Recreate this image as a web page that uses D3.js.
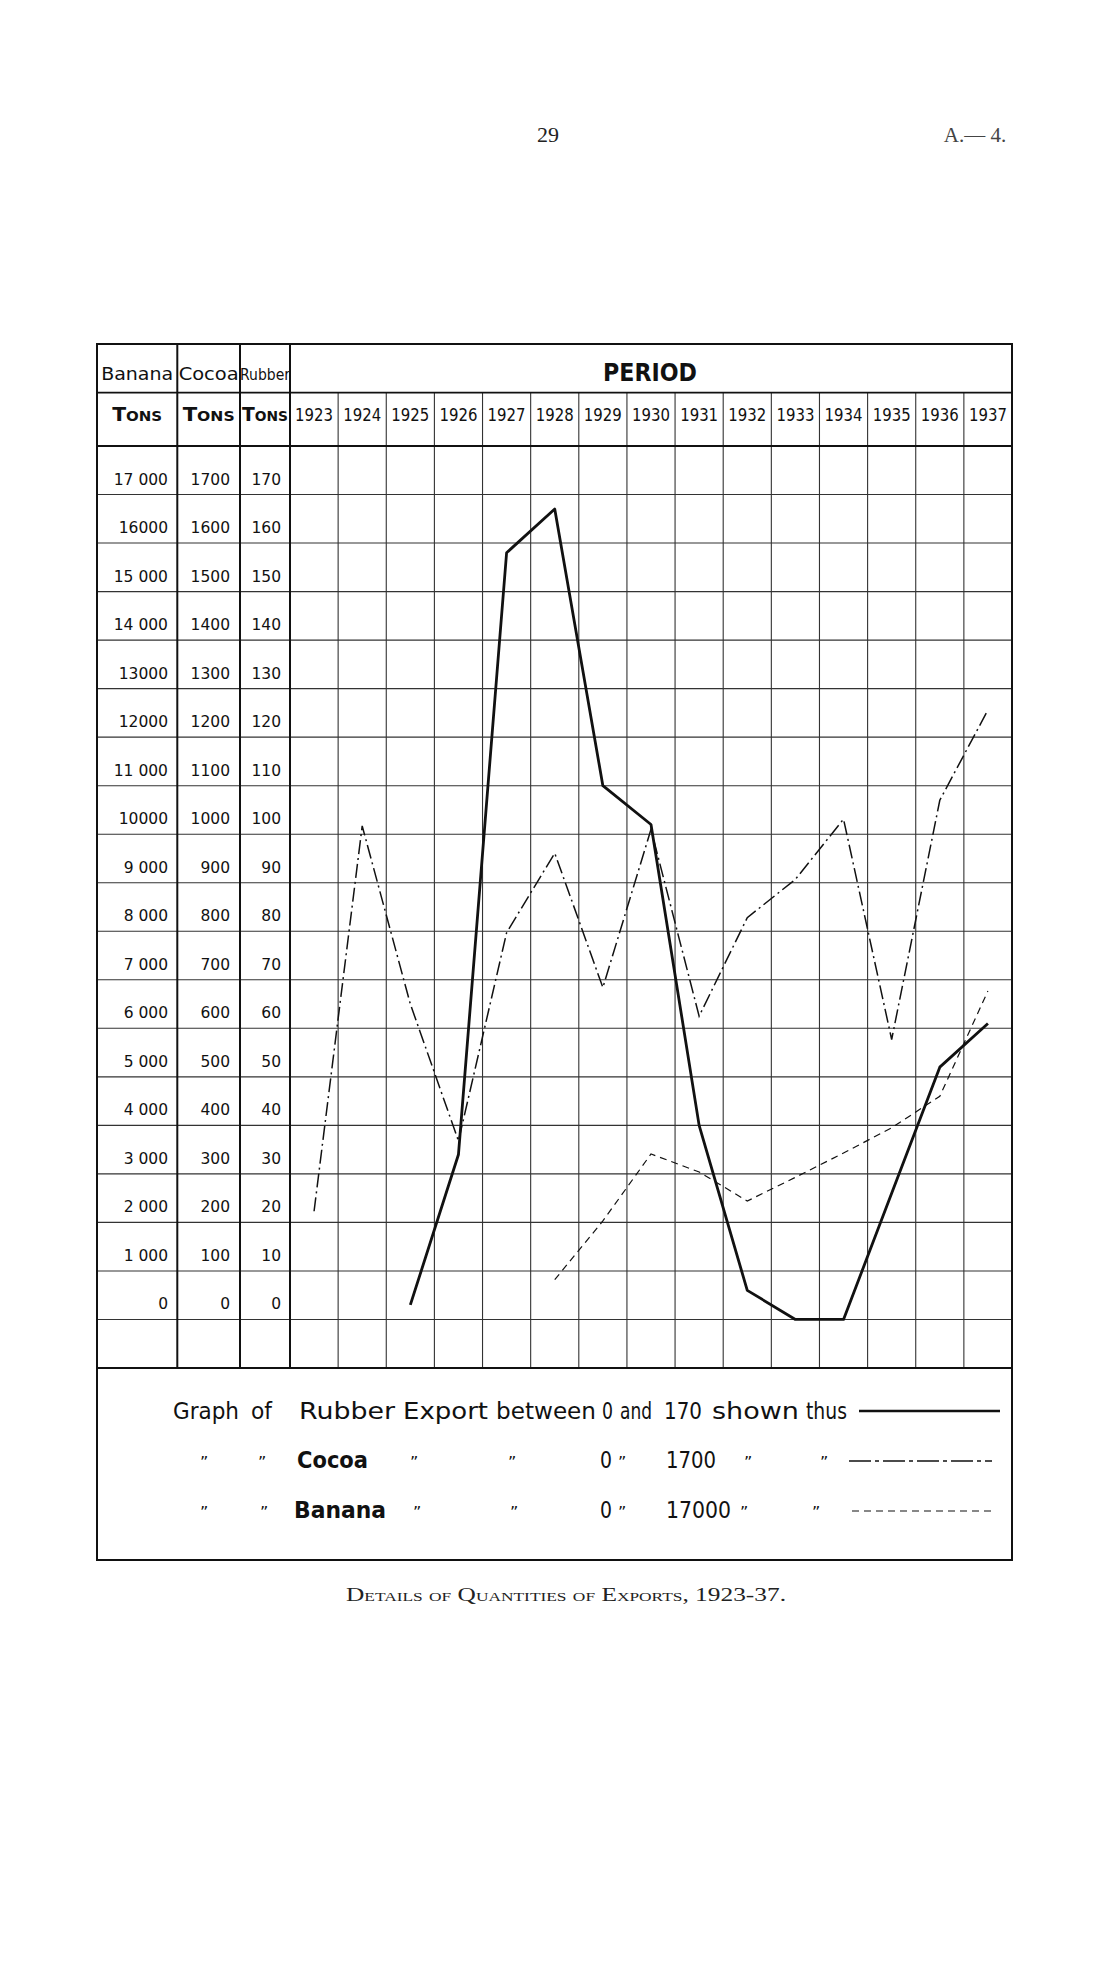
<!DOCTYPE html>
<html><head><meta charset="utf-8">
<script src="https://cdn.jsdelivr.net/npm/d3@7"></script>
<style>body{margin:0;background:#fff}</style>
</head><body>
<svg id="c" width="1114" height="1967" xmlns="http://www.w3.org/2000/svg"></svg>
<script>
// ---------------- data ----------------
const years = [1923,1924,1925,1926,1927,1928,1929,1930,1931,1932,1933,1934,1935,1936,1937];
const rubberTons = [null,null,3,34,158,167,110,102,40,6,0,0,26,52,61];
const cocoaTons  = [223,1017,650,368,797,961,684,1010,625,828,907,1031,577,1070,1256];
const bananaTons = [null,null,null,null,null,820,2030,3410,3040,2440,2930,3430,3950,4600,6770];
const bananaTicks = ["17 000","16000","15 000","14 000","13000","12000","11 000","10000","9 000","8 000","7 000","6 000","5 000","4 000","3 000","2 000","1 000","0"];
const cocoaTicks  = ["1700","1600","1500","1400","1300","1200","1100","1000","900","800","700","600","500","400","300","200","100","0"];
const rubberTicks = ["170","160","150","140","130","120","110","100","90","80","70","60","50","40","30","20","10","0"];
const rubberTickValues = [170,160,150,140,130,120,110,100,90,80,70,60,50,40,30,20,10,0];
const columnHeads = ["Banana","Cocoa","Rubber"];
const unitLabel = ["T","ONS"];
const periodLabel = "PERIOD";
const legendRubber = ["Graph","of","Rubber","Export","between","0","and","170","shown","thus"];
const legendCocoa  = ["\u201D","\u201D","Cocoa","\u201D","\u201D","0","\u201D","1700","\u201D","\u201D"];
const legendBanana = ["\u201D","\u201D","Banana","\u201D","\u201D","0","\u201D","17000","\u201D","\u201D"];
const caption = "Details of Quantities of Exports, 1923-37.";
const pageNumber = "29";
const pageRef = "A.\u2014 4.";

// ---------------- layout ----------------
const L = 97, R = 1012, T = 344, H1 = 392.7, H2 = 446, B = 1368, LB = 1560;
const colX = [97, 177.3, 240, 290];
const svg = d3.select("#c");
const ink = "#111";

const x = d3.scaleBand().domain(years).range([290, R]);
const bw = x.bandwidth();
const yR = d3.scaleLinear().domain([-10, 180]).range([B, H2]);
const yC = d3.scaleLinear().domain([-100, 1800]).range([B, H2]);
const yB = d3.scaleLinear().domain([-1000, 18000]).range([B, H2]);

// grid: horizontal rows
const g = svg.append("g");
g.selectAll("line.h").data(d3.range(0, 180, 10)).join("line")
  .attr("x1", L).attr("x2", R).attr("y1", d => yR(d)).attr("y2", d => yR(d))
  .attr("stroke", "#333").attr("stroke-width", 1.1);
// year verticals
g.selectAll("line.v").data(years.slice(1)).join("line")
  .attr("x1", d => x(d)).attr("x2", d => x(d)).attr("y1", H1).attr("y2", B)
  .attr("stroke", "#333").attr("stroke-width", 1.1);
// header lines
[H1, H2, B].forEach(yy => g.append("line").attr("x1", L).attr("x2", R).attr("y1", yy).attr("y2", yy)
  .attr("stroke", ink).attr("stroke-width", 1.8));
// label column dividers
colX.slice(1).forEach(xx => g.append("line").attr("x1", xx).attr("x2", xx).attr("y1", T).attr("y2", B)
  .attr("stroke", ink).attr("stroke-width", 2));
// outer box
g.append("rect").attr("x", L).attr("y", T).attr("width", R - L).attr("height", LB - T)
  .attr("fill", "none").attr("stroke", ink).attr("stroke-width", 2);

// header texts
const hf = "'DejaVu Sans', sans-serif";
const headCenters = [(colX[0]+colX[1])/2, (colX[1]+colX[2])/2, (colX[2]+colX[3])/2];
const headW = [72, 60, 50];
columnHeads.forEach((t, i) => {
  svg.append("text").attr("x", headCenters[i]).attr("y", 380).attr("text-anchor", "middle")
    .attr("font-family", hf).attr("font-size", i === 2 ? 15 : 17).attr("fill", ink)
    .attr("textLength", headW[i]).attr("lengthAdjust", "spacingAndGlyphs").text(t);
});
svg.append("text").attr("x", 650).attr("y", 381).attr("text-anchor", "middle")
  .attr("font-family", hf).attr("font-size", 25).attr("font-weight", "bold").attr("fill", ink)
  .attr("textLength", 94).attr("lengthAdjust", "spacingAndGlyphs").text(periodLabel);
const tonsW = [50, 52, 46];
headCenters.forEach((cx, i) => {
  const t = svg.append("text").attr("x", cx).attr("y", 421).attr("text-anchor", "middle")
    .attr("font-family", hf).attr("font-weight", "bold").attr("fill", ink)
    .attr("textLength", tonsW[i]).attr("lengthAdjust", "spacingAndGlyphs");
  t.append("tspan").attr("font-size", 19).text(unitLabel[0]);
  t.append("tspan").attr("font-size", 14).text(unitLabel[1]);
});
svg.selectAll("text.yr").data(years).join("text")
  .attr("x", d => x(d) + bw / 2).attr("y", 421).attr("text-anchor", "middle")
  .attr("font-family", hf).attr("font-size", 17).attr("fill", ink)
  .attr("textLength", 38).attr("lengthAdjust", "spacingAndGlyphs").text(d => d);

// tick labels
const tickCols = [[bananaTicks, 168], [cocoaTicks, 230], [rubberTicks, 281]];
tickCols.forEach(([arr, xe]) => {
  svg.selectAll(null).data(arr).join("text")
    .attr("x", xe).attr("y", (d, i) => yR(rubberTickValues[i]) - 10)
    .attr("text-anchor", "end").attr("font-family", hf).attr("font-size", 15.5).attr("fill", ink)
    .text(d => d);
});

// series lines
const cx = i => x(years[i]) + bw / 2;
const lineR = d3.line().defined(d => d != null).x((d, i) => cx(i)).y(d => yR(d));
const lineC = d3.line().defined(d => d != null).x((d, i) => cx(i)).y(d => yC(d));
const lineB = d3.line().defined(d => d != null).x((d, i) => cx(i)).y(d => yB(d));
svg.append("path").attr("d", lineB(bananaTons)).attr("fill", "none").attr("stroke", ink)
  .attr("stroke-width", 1.2).attr("stroke-dasharray", "7,5");
svg.append("path").attr("d", lineC(cocoaTons)).attr("fill", "none").attr("stroke", ink)
  .attr("stroke-width", 1.5).attr("stroke-dasharray", "14,4,2,4");
svg.append("path").attr("d", lineR(rubberTons)).attr("fill", "none").attr("stroke", ink)
  .attr("stroke-width", 2.8).attr("stroke-linejoin", "round");

// legend
const lf = "'DejaVu Sans', sans-serif";
const legendX = [
  [173, 251, 299, 403, 496, 602, 620, 664, 712, 806],
  [200, 258, 297, 410, 508, 600, 618, 666, 744, 820],
  [200, 260, 294, 413, 510, 600, 618, 666, 740, 812]
];
const legendW = [
  [66, 21, 96, 85, 100, 11, 32, 38, 87, 41],
  [0, 0, 71, 0, 0, 12, 0, 50, 0, 0],
  [0, 0, 92, 0, 0, 12, 0, 65, 0, 0]
];
const legendY = [1419, 1468, 1518];
[legendRubber, legendCocoa, legendBanana].forEach((row, r) => {
  row.forEach((t, i) => {
    const isQuote = t === "\u201D";
    const el = svg.append("text").attr("x", legendX[r][i]).attr("y", legendY[r])
      .attr("font-family", lf).attr("font-size", isQuote ? 16 : 23).attr("fill", ink)
      .text(t);
    if (legendW[r][i] > 0) el.attr("textLength", legendW[r][i]).attr("lengthAdjust", "spacingAndGlyphs");
    if (r > 0 && i === 2) el.attr("font-weight", "bold");
  });
});
const legLines = [
  {x1: 859, x2: 1000, y: 1411, w: 2.6, dash: null},
  {x1: 849, x2: 992, y: 1461, w: 1.5, dash: "22,4,4,4"},
  {x1: 852, x2: 992, y: 1511, w: 1.2, dash: "7,5"}
];
legLines.forEach(l => {
  const ln = svg.append("line").attr("x1", l.x1).attr("x2", l.x2).attr("y1", l.y).attr("y2", l.y)
    .attr("stroke", ink).attr("stroke-width", l.w);
  if (l.dash) ln.attr("stroke-dasharray", l.dash);
});

// caption and page header
const sf = "'Liberation Serif', 'DejaVu Serif', serif";
svg.append("text").attr("x", 566).attr("y", 1601).attr("text-anchor", "middle")
  .attr("font-family", sf).attr("font-size", 19).attr("font-variant", "small-caps").attr("fill", "#222")
  .attr("textLength", 440).attr("lengthAdjust", "spacingAndGlyphs").text(caption);
svg.append("text").attr("x", 548).attr("y", 142).attr("text-anchor", "middle")
  .attr("font-family", sf).attr("font-size", 22).attr("fill", "#222").text(pageNumber);
svg.append("text").attr("x", 975).attr("y", 142).attr("text-anchor", "middle")
  .attr("font-family", sf).attr("font-size", 21).attr("fill", "#444").text(pageRef);
</script>
</body></html>
